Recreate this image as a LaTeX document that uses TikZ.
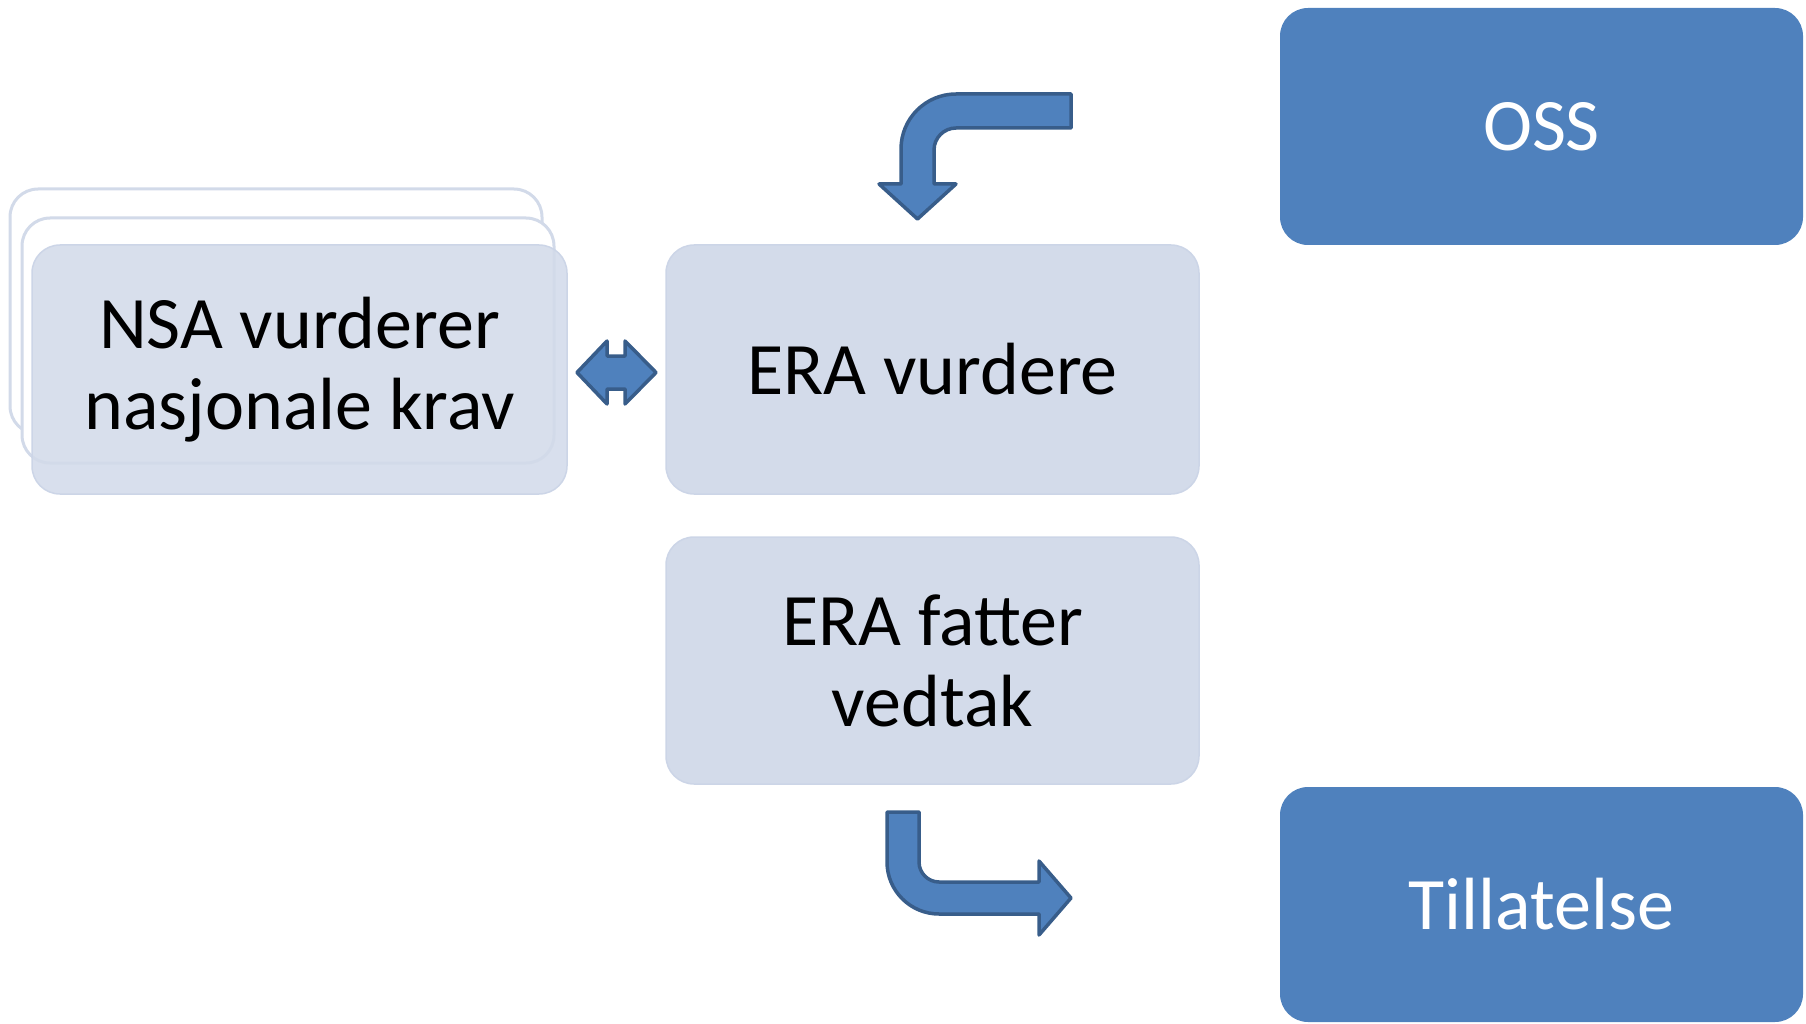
\documentclass[tikz,border=0pt]{standalone}
\usepackage{fontspec}
\setmainfont{Carlito}
\definecolor{lightbox}{HTML}{D3DBEA}
\definecolor{lightedge}{HTML}{CCD5E7}
\definecolor{ghostedge}{HTML}{D2DAE9}
\definecolor{darkbox}{HTML}{4F81BD}
\definecolor{arrowedge}{HTML}{385D8A}
\begin{document}
\begin{tikzpicture}[x=1pt,y=-1pt,
  lightnode/.style={rounded corners=28pt, fill=lightbox, draw=lightedge, line width=1.5pt,
    inner sep=0pt, align=center, font=\fontsize{74}{81}\selectfont, text=black},
  ghostnode/.style={rounded corners=28pt, fill=white, draw=ghostedge, line width=3pt, inner sep=0pt},
  darknode/.style={rounded corners=28pt, fill=darkbox, draw=none,
    inner sep=0pt, align=center, font=\fontsize{74}{81}\selectfont, text=white},
  blockarrow/.style={fill=darkbox, draw=arrowedge, line width=3.5pt, line join=round}]
\useasboundingbox (0,0) rectangle (1806,1024);

% stacked NSA boxes
\node[ghostnode, minimum width=532pt, minimum height=245pt] (nsaback1) at (276,311.5) {};
\node[ghostnode, minimum width=532pt, minimum height=245pt] (nsaback2) at (288,340.5) {};
\node[lightnode, fill opacity=0.88, text opacity=1, minimum width=535pt, minimum height=249pt] (nsa) at (299.5,369.5) {NSA vurderer\\nasjonale krav};

% ERA boxes
\node[lightnode, minimum width=533pt, minimum height=249pt] (eravurd) at (932.5,369.5) {ERA vurdere};
\node[lightnode, minimum width=533pt, minimum height=247pt] (erafatt) at (932.5,660.5) {ERA fatter\\vedtak};

% dark boxes
\node[darknode, minimum width=523pt, minimum height=237pt] (oss) at (1541.5,126.5) {OSS};
\node[darknode, minimum width=523pt, minimum height=235pt] (till) at (1541.5,904.5) {Tillatelse};

% double arrow between NSA and ERA
\draw[blockarrow] (577,372.5) -- (607,341) -- (607,356) -- (625,356) -- (625,341)
  -- (656,372.5) -- (625,404) -- (625,389) -- (607,389) -- (607,404) -- cycle;

% top bent arrow (from OSS level down to ERA vurdere)
\draw[blockarrow] (1071,94) -- (956,94) .. controls (925.6,94) and (901,118.6) .. (901,149)
  -- (901,184) -- (879,184) -- (917.5,219) -- (956,184) -- (934,184) -- (934,150)
  .. controls (934,137.9) and (943.9,128) .. (956,128) -- (1071,128) -- cycle;

% bottom bent arrow (from ERA fatter vedtak to Tillatelse)
\draw[blockarrow] (887,812) -- (919,812) -- (919,862) .. controls (919,873) and (928,882) .. (939,882)
  -- (1039,882) -- (1039,861) -- (1071,898) -- (1039,935) -- (1039,914) -- (939,914)
  .. controls (910.3,914) and (887,890.7) .. (887,862) -- cycle;
\end{tikzpicture}
\end{document}
